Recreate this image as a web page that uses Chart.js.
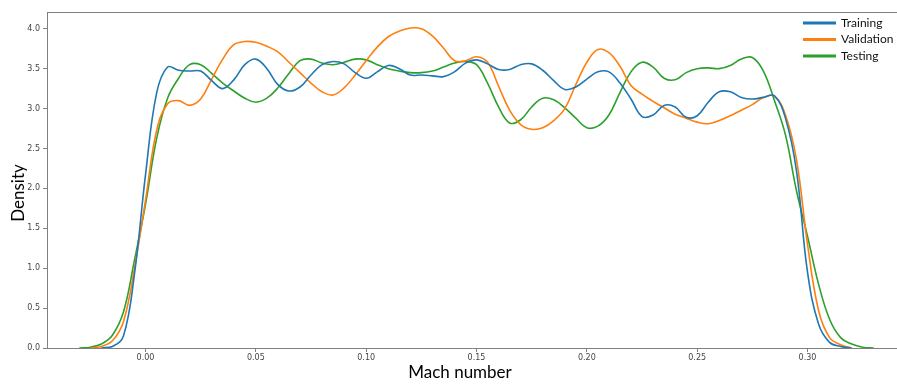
<!DOCTYPE html>
<html>
<head>
<meta charset="utf-8">
<script src="https://cdn.jsdelivr.net/npm/chart.js@4.4.0/dist/chart.umd.min.js"></script>
<style>
  html, body { margin: 0; padding: 0; background: #fff; }
  canvas { display: block; }
</style>
</head>
<body>
<canvas id="kde" width="897" height="385"></canvas>
<script>
// Kernel density estimates of the Mach number in each data split.
const machNumbers = [
  -0.030, -0.025, -0.020, -0.015, -0.010, -0.005,
   0.000,  0.005,  0.010,  0.015,  0.020,  0.025,  0.030,  0.035,  0.040,  0.045,
   0.050,  0.055,  0.060,  0.065,  0.070,  0.075,  0.080,  0.085,  0.090,  0.095,
   0.100,  0.105,  0.110,  0.115,  0.120,  0.125,  0.130,  0.135,  0.140,  0.145,
   0.150,  0.155,  0.160,  0.165,  0.170,  0.175,  0.180,  0.185,  0.190,  0.195,
   0.200,  0.205,  0.210,  0.215,  0.220,  0.225,  0.230,  0.235,  0.240,  0.245,
   0.250,  0.255,  0.260,  0.265,  0.270,  0.275,  0.280,  0.285,  0.290,  0.295,
   0.300,  0.305,  0.310,  0.315,  0.320,  0.325,  0.330
];

const training = [
  null, null, 0.00, 0.02, 0.15, 0.93,
  2.17, 3.19, 3.52, 3.48, 3.47, 3.47, 3.35, 3.25, 3.36, 3.55,
  3.62, 3.50, 3.30, 3.22, 3.27, 3.42, 3.55, 3.59, 3.56, 3.45,
  3.38, 3.46, 3.54, 3.50, 3.42, 3.42, 3.41, 3.40, 3.46, 3.57,
  3.61, 3.56, 3.49, 3.49, 3.55, 3.56, 3.48, 3.35, 3.24, 3.27,
  3.37, 3.46, 3.46, 3.32, 3.12, 2.90, 2.92, 3.04, 3.02, 2.89,
  2.91, 3.08, 3.21, 3.21, 3.14, 3.12, 3.14, 3.16, 2.88, 2.22,
  0.95, 0.30, 0.07, 0.02, 0.00, null, null
];

const validation = [
  null, 0.00, 0.02, 0.09, 0.33, 1.00,
  1.85, 2.72, 3.06, 3.10, 3.04, 3.12, 3.37, 3.62, 3.80, 3.84,
  3.83, 3.78, 3.71, 3.58, 3.45, 3.32, 3.21, 3.17, 3.26, 3.42,
  3.60, 3.77, 3.90, 3.97, 4.01, 4.00, 3.91, 3.76, 3.60, 3.60,
  3.65, 3.58, 3.28, 2.98, 2.80, 2.74, 2.76, 2.85, 3.00, 3.30,
  3.58, 3.74, 3.70, 3.53, 3.29, 3.18, 3.09, 3.01, 2.93, 2.88,
  2.83, 2.81, 2.85, 2.91, 2.98, 3.05, 3.14, 3.16, 2.92, 2.36,
  1.30, 0.47, 0.13, 0.04, 0.00, null, null
];

const testing = [
  0.00, 0.01, 0.05, 0.16, 0.45, 1.10,
  1.80, 2.62, 3.13, 3.38, 3.55, 3.55, 3.44, 3.32, 3.22, 3.13,
  3.08, 3.13, 3.26, 3.44, 3.60, 3.62, 3.57, 3.55, 3.58, 3.62,
  3.61, 3.55, 3.50, 3.47, 3.45, 3.45, 3.47, 3.52, 3.57, 3.59,
  3.55, 3.32, 3.02, 2.82, 2.86, 3.02, 3.13, 3.11, 3.01, 2.88,
  2.76, 2.78, 2.92, 3.20, 3.46, 3.58, 3.52, 3.38, 3.36, 3.45,
  3.50, 3.51, 3.50, 3.54, 3.62, 3.64, 3.47, 3.10, 2.67, 1.97,
  1.40, 0.80, 0.36, 0.13, 0.05, 0.01, 0.00
];

const seriesNames  = ['Training', 'Validation', 'Testing'];
const seriesValues = [training, validation, testing];
const seriesColors = ['#1f77b4', '#ff7f0e', '#2ca02c'];

const xLimits = [-0.04464, 0.34055];
const yLimits = [0, 4.21];

const AXIS_GREY = '#808080';
const TICK_FONT = { family: 'DejaVu Sans', size: 8 };
const TITLE_FONT = '17px Lato';

// Top spine, axis titles and the legend in the upper-right corner.
const decorations = {
  id: 'decorations',
  afterDraw(chart) {
    const { ctx, chartArea: a } = chart;
    ctx.save();

    ctx.strokeStyle = AXIS_GREY;
    ctx.lineWidth = 1;
    ctx.beginPath();
    ctx.moveTo(a.left, a.top + 0.5);
    ctx.lineTo(a.right, a.top + 0.5);
    ctx.stroke();

    ctx.fillStyle = '#000';
    ctx.font = TITLE_FONT;
    ctx.textAlign = 'center';
    ctx.textBaseline = 'middle';
    ctx.fillText('Mach number', 460, 373);
    ctx.save();
    ctx.translate(19, 193);
    ctx.rotate(-Math.PI / 2);
    ctx.fillText('Density', 0, 0);
    ctx.restore();

    ctx.font = '12px Lato';
    ctx.textAlign = 'left';
    chart.data.datasets.forEach((ds, i) => {
      const y = 23 + i * 16.5;
      ctx.strokeStyle = ds.borderColor;
      ctx.lineWidth = 3;
      ctx.beginPath();
      ctx.moveTo(803, y);
      ctx.lineTo(836, y);
      ctx.stroke();
      ctx.fillStyle = '#111';
      ctx.fillText(ds.label, 841, y);
    });

    ctx.restore();
  }
};

new Chart(document.getElementById('kde'), {
  type: 'line',
  data: {
    datasets: seriesNames.map((name, s) => ({
      label: name,
      data: machNumbers.map((m, i) => ({ x: m, y: seriesValues[s][i] })),
      borderColor: seriesColors[s],
      backgroundColor: seriesColors[s],
      borderWidth: 1.6,
      pointRadius: 0,
      tension: 0.4,
      spanGaps: false
    }))
  },
  options: {
    responsive: false,
    animation: false,
    layout: { padding: { top: 12, right: 0, bottom: 0, left: 0 } },
    plugins: {
      legend: { display: false },
      tooltip: { enabled: false }
    },
    scales: {
      x: {
        type: 'linear',
        min: xLimits[0],
        max: xLimits[1],
        afterFit(scale) { scale.height = 37; },
        border: { display: true, color: AXIS_GREY, width: 1 },
        grid: { drawOnChartArea: false, drawTicks: true, tickLength: 4, color: AXIS_GREY },
        ticks: {
          stepSize: 0.05,
          includeBounds: false,
          padding: 1,
          maxRotation: 0,
          autoSkip: false,
          color: '#444',
          font: TICK_FONT,
          callback: v => v.toFixed(2)
        }
      },
      y: {
        type: 'linear',
        min: yLimits[0],
        max: yLimits[1],
        afterFit(scale) { scale.width = 47; },
        border: { display: true, color: AXIS_GREY, width: 1 },
        grid: { drawOnChartArea: false, drawTicks: true, tickLength: 4, color: AXIS_GREY },
        ticks: {
          stepSize: 0.5,
          includeBounds: false,
          padding: 3,
          color: '#444',
          font: TICK_FONT,
          callback: v => v.toFixed(1)
        }
      }
    }
  },
  plugins: [decorations]
});
</script>
</body>
</html>
